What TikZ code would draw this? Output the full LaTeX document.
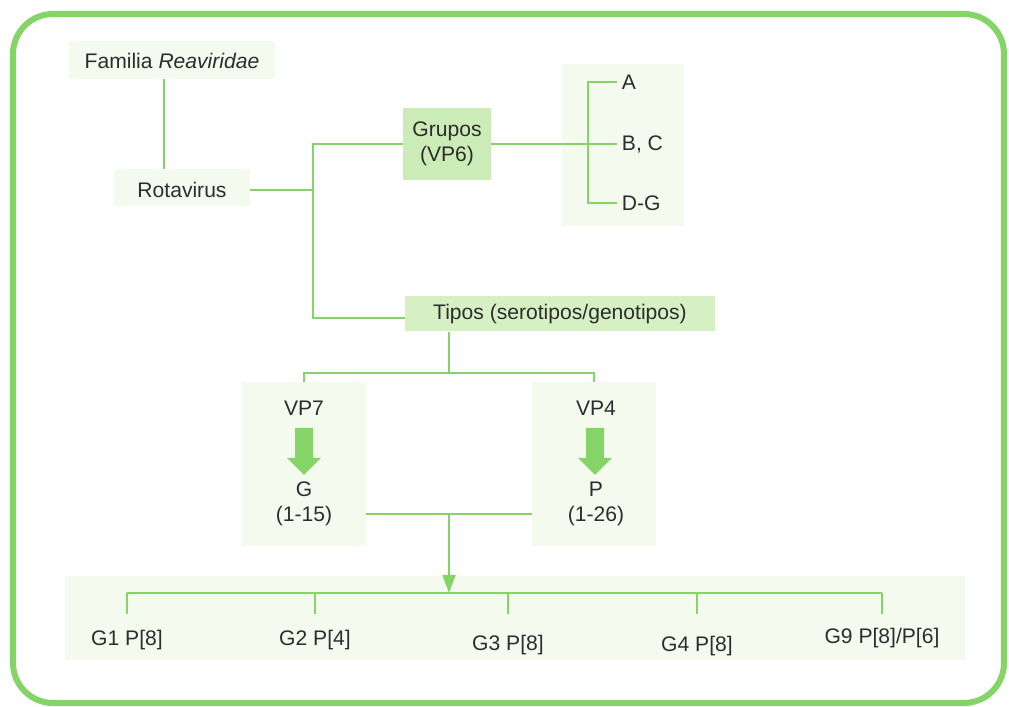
\documentclass[tikz,border=0pt]{standalone}
\usepackage{fontspec}
\setmainfont{Liberation Sans}
\usetikzlibrary{arrows.meta,positioning}

\definecolor{linegreen}{RGB}{132,212,104}
\definecolor{palegreen}{RGB}{244,251,238}
\definecolor{midgreen}{RGB}{214,240,196}
\definecolor{deepgreen}{RGB}{203,236,182}
\definecolor{inkgray}{RGB}{45,45,45}

\tikzset{
  conn/.style={draw=linegreen, line width=1.6pt},
  panel/.style={rectangle, fill=palegreen, inner sep=0pt},
  label/.style={text=inkgray, font=\fontsize{15}{18}\selectfont, align=center},
}

\begin{document}
\begin{tikzpicture}[x=0.025cm, y=-0.025cm]
    \useasboundingbox (0,0) rectangle (1009,707);
    % Frame
    \draw[draw=linegreen, line width=4.3pt, rounded corners=1cm] (13,14) rectangle (1004,703);
    % Background panels
    \node (fambox) [panel, minimum width=5.125cm, minimum height=0.95cm] at (172,60) {};
    \node (rotabox) [panel, minimum width=3.375cm, minimum height=0.925cm] at (182,188) {};
    \node (grpbox) [panel, fill=deepgreen, minimum width=2.2cm, minimum height=1.8cm] at (447,144) {};
    \node (abcbox) [panel, minimum width=3.05cm, minimum height=4.05cm] at (623,145) {};
    \node (tipbox) [panel, fill=midgreen, minimum width=7.75cm, minimum height=0.875cm] at (560,314) {};
    \node (vpsevenbox) [panel, minimum width=3.1cm, minimum height=4.075cm] at (304,464) {};
    \node (vpfourbox) [panel, minimum width=3.075cm, minimum height=4.075cm] at (594,464) {};
    \node (combbox) [panel, minimum width=22.5cm, minimum height=2.1cm] at (515,618) {};
    % Nodes
    \node (fam) [label] at (172,61) {Familia \textit{Reaviridae}};
    \node (rota) [label] at (182,190) {Rotavirus};
    \node (grupos) [label, inner sep=0pt] at (447,144) {Grupos\\(VP6)};
    \node (ga) [label, anchor=west] at (617,82) {A};
    \node (gbc) [label, anchor=west] at (617,144) {B, C};
    \node (gdg) [label, anchor=west] at (617,203) {D-G};
    \node (tipos) [label] at (560,314) {Tipos (serotipos/genotipos)};
    \node (vpseven) [label] at (304,408) {VP7};
    \node (vpfour) [label] at (596,408) {VP4};
    \node (gser) [label] at (304,504) {G\\(1-15)};
    \node (pser) [label] at (596,504) {P\\(1-26)};
    \node (c1) [label] at (127,640) {G1 P[8]};
    \node (c2) [label] at (315,640) {G2 P[4]};
    \node (c3) [label] at (508,645) {G3 P[8]};
    \node (c4) [label] at (697,646) {G4 P[8]};
    \node (c5) [label] at (882,638) {G9 P[8]/P[6]};
    \coordinate (trunk) at (313,190);
    \coordinate (brk) at (588,144);
    \coordinate (tbus) at (449,373);
    \coordinate (merge) at (449,514);
    \coordinate (bus) at (449,593);
    % Connectors
    \draw[conn] ([xshift=-0.2cm]fambox.south) -- ([xshift=-0.2cm]fambox.south |- rotabox.north);
    \draw[conn] (rotabox.east |- rota) -- (trunk);
    \draw[conn] (grpbox.west) -| (trunk) |- (tipbox.west |- 0,318);
    \draw[conn] (grpbox.east) -- (brk);
    \draw[conn] (ga.west) -| (brk) |- (gdg.west);
    \draw[conn] (brk) -- (gbc.west);
    \draw[conn] (tipbox.south -| tbus) -- (tbus);
    \draw[conn] (vpsevenbox.north) |- (tbus) -| (vpfourbox.north);
    \draw[conn] (vpsevenbox.east |- merge) -- (vpfourbox.west |- merge);
    \draw[conn, -{Triangle[length=0.45cm, width=0.32cm]}] (merge) -- (bus);
    \draw[conn] (c1.north |- bus) -- (c5.north |- bus);
    \foreach \c in {c1,c2,c3,c4,c5}
      \draw[conn] (\c.north |- bus) -- ++(0,21);
    % Block arrows
    \foreach \x in {304,595}
      \fill[linegreen] (\x-9,428) -- (\x+9,428) -- (\x+9,458) -- (\x+17,458)
        -- (\x,475) -- (\x-17,458) -- (\x-9,458) -- cycle;
\end{tikzpicture}
\end{document}
